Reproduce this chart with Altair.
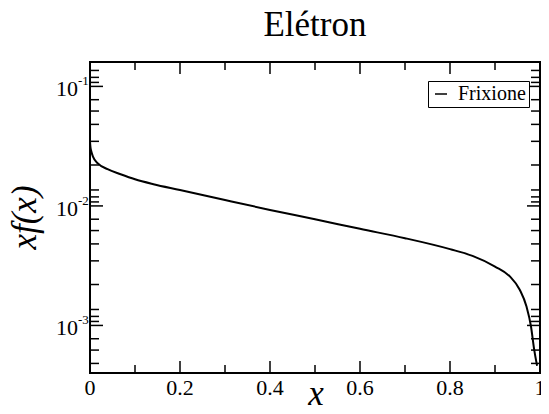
import altair as alt
import pandas as pd

# ---- data ----
x_vals = [0, 0.001, 0.003, 0.0066, 0.0175, 0.039, 0.068, 0.1, 0.141, 0.2, 0.3, 0.4,
          0.5, 0.6, 0.7, 0.8, 0.85, 0.9, 0.933, 0.955, 0.97, 0.98, 0.987, 0.9935]
y_vals = [0.0345, 0.031, 0.0285, 0.0258, 0.0227, 0.0203, 0.0184, 0.0167, 0.0152, 0.0136,
          0.0112, 0.00926, 0.00774, 0.00643, 0.00537, 0.00435, 0.00382, 0.00311, 0.00257,
          0.00199, 0.00144, 0.00098, 0.00063, 0.00046]
series_name = "Frixione"

x_major = [0, 0.2, 0.4, 0.6, 0.8, 1.0]
x_major_labels = ["0", "0.2", "0.4", "0.6", "0.8", "1"]
x_minor = [0.1, 0.3, 0.5, 0.7, 0.9]
y_major = [1e-3, 1e-2, 1e-1]
y_exponents = ["-3", "-2", "-1"]
y_minor_mult = [1.08, 1.19, 1.36, 2.2, 3.47, 4.81, 6.22, 7.74]
y_decades = [-4, -3, -2, -1]

title_text = "Elétron"
x_title = "x"
y_title = "xf(x)"

# ---- layout ----
W, H = 450, 311
FONT = "Liberation Serif"
y_lo, y_hi = 4e-4, 0.16

y_minor = [m * 10 ** d for d in y_decades for m in y_minor_mult
           if y_lo <= m * 10 ** d <= y_hi]

xs = alt.Scale(domain=[0, 1], nice=False, zero=False)
ys = alt.Scale(type="log", domain=[y_lo, y_hi], nice=False)

df = pd.DataFrame({"x": x_vals, "y": y_vals, "series": [series_name] * len(x_vals)})

line = alt.Chart(df).mark_line(strokeWidth=2, interpolate="monotone", clip=True).encode(
    x=alt.X("x:Q", scale=xs, axis=None),
    y=alt.Y("y:Q", scale=ys, axis=None),
    color=alt.Color("series:N",
                    scale=alt.Scale(domain=[series_name], range=["black"]),
                    legend=alt.Legend(orient="none", legendX=338, legendY=19, title=None,
                                      symbolType="stroke", symbolSize=144,
                                      symbolStrokeWidth=1.5, labelFont=FONT,
                                      labelFontSize=20, labelColor="black",
                                      strokeColor="black", fillColor="white",
                                      padding=3, labelOffset=7)),
)

ymaj_df = pd.DataFrame({"v": y_major, "e": y_exponents})
ymin_df = pd.DataFrame({"v": y_minor})
xmaj_df = pd.DataFrame({"v": x_major, "t": x_major_labels})
xmin_df = pd.DataFrame({"v": x_minor})


def yrule(d, x1, x2):
    return alt.Chart(d).mark_rule(color="black", strokeWidth=1.5).encode(
        y=alt.Y("v:Q", scale=ys, axis=None), x=alt.value(x1), x2=alt.value(x2))


def xrule(d, y1, y2):
    return alt.Chart(d).mark_rule(color="black", strokeWidth=1.5).encode(
        x=alt.X("v:Q", scale=xs, axis=None), y=alt.value(y1), y2=alt.value(y2))


ticks = [
    yrule(ymaj_df, 0, 13), yrule(ymaj_df, W, W - 13),
    yrule(ymin_df, 0, 9), yrule(ymin_df, W, W - 9),
    xrule(xmaj_df, H, H - 12), xrule(xmaj_df, 0, 12),
    xrule(xmin_df, H, H - 8), xrule(xmin_df, 0, 8),
]

ylab_base = alt.Chart(ymaj_df).mark_text(
    align="right", baseline="alphabetic", font=FONT, fontSize=22, color="black", dy=10
).encode(y=alt.Y("v:Q", scale=ys, axis=None), x=alt.value(-12), text=alt.value("10"))

ylab_exp = alt.Chart(ymaj_df).mark_text(
    align="left", baseline="alphabetic", font=FONT, fontSize=13, color="black", dy=-1
).encode(y=alt.Y("v:Q", scale=ys, axis=None), x=alt.value(-12), text="e:N")

xlab = alt.Chart(xmaj_df).mark_text(
    align="center", baseline="alphabetic", font=FONT, fontSize=22, color="black"
).encode(x=alt.X("v:Q", scale=xs, axis=None), y=alt.value(H + 22), text="t:N")

title_df = pd.DataFrame({"t": [title_text]})
title = alt.Chart(title_df).mark_text(
    align="center", baseline="alphabetic", font=FONT, fontSize=35, color="black"
).encode(x=alt.value(W / 2), y=alt.value(-26), text="t:N")

xt_df = pd.DataFrame({"t": [x_title]})
xtitle = alt.Chart(xt_df).mark_text(
    align="center", baseline="alphabetic", font=FONT, fontSize=35, fontStyle="italic",
    color="black"
).encode(x=alt.value(W / 2 + 1), y=alt.value(H + 32), text="t:N")

yt_df = pd.DataFrame({"t": [y_title]})
ytitle = alt.Chart(yt_df).mark_text(
    align="center", baseline="alphabetic", font=FONT, fontSize=35, fontStyle="italic",
    color="black", angle=270
).encode(x=alt.value(-54), y=alt.value(H / 2), text="t:N")

chart = alt.layer(line, *ticks, ylab_base, ylab_exp, xlab, title, xtitle, ytitle).properties(
    width=W, height=H,
    autosize=alt.AutoSizeParams(type="none"),
    padding={"left": 82, "top": 54, "right": 1, "bottom": 33},
).configure_view(stroke="black", strokeWidth=2)

chart.save("out.html", embed_options={"renderer": "svg", "actions": False})
